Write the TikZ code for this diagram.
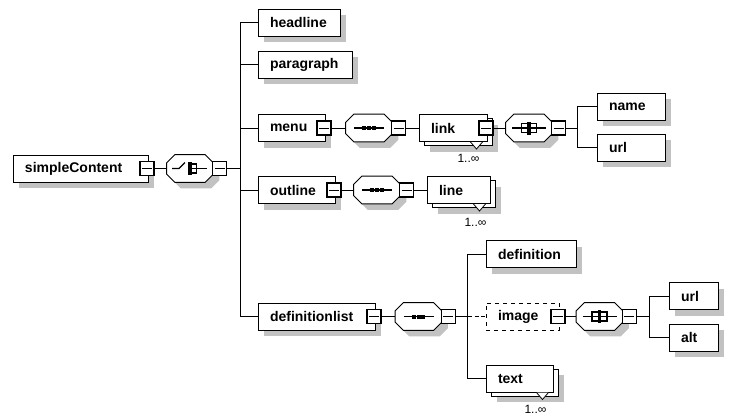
\documentclass[tikz,border=0pt]{standalone}
\usepackage{fontspec}
\setmainfont{Liberation Sans}
\usetikzlibrary{shadows}

\tikzset{
  conn/.style={draw=black, line width=0.75pt},
  box/.style={draw=black, line width=0.75pt, fill=white, rectangle,
    inner xsep=9pt, inner ysep=0pt, minimum height=20.25pt, align=left,
    font=\fontsize{10.5}{12}\selectfont\bfseries},
  shadowed/.style={general shadow={fill=black!24, shadow xshift=4.5pt, shadow yshift=-4.5pt}},
  elem/.style={box, shadowed},
  optelem/.style={box, dashed},
  stackback/.style={box, shadowed, minimum width=#1},
  btn/.style={draw=black, line width=1pt, fill=white, rectangle,
    minimum size=10.5pt, inner sep=0pt,
    path picture={\draw[line width=0.75pt]
      ([xshift=1.5pt]path picture bounding box.west) --
      ([xshift=-1.5pt]path picture bounding box.east);}},
  octbox/.style={rectangle, draw=none, inner sep=0pt,
    minimum width=34.5pt, minimum height=20.25pt},
  mult/.style={inner sep=0pt, font=\fontsize{9}{10}\selectfont},
  notch/.style={draw=black, line width=0.6pt, fill=white}
}

% compositor outline (octagon) with its shadow, around an invisible box node
\newcommand{\drawoct}[1]{%
  \fill[black!24] ([shift={(14,6)}]#1.north west) -- ([shift={(-2,6)}]#1.north east)
    -- ([shift={(6,14)}]#1.north east) -- ([shift={(6,-2)}]#1.south east)
    -- ([shift={(-2,6)}]#1.south east) -- ([shift={(14,6)}]#1.south west)
    -- ([shift={(6,-2)}]#1.south west) -- ([shift={(6,14)}]#1.north west) -- cycle;
  \filldraw[fill=white, draw=black, line width=0.75pt]
    ([shift={(8,0)}]#1.north west) -- ([shift={(-8,0)}]#1.north east)
    -- ([shift={(0,8)}]#1.north east) -- ([shift={(0,-8)}]#1.south east)
    -- ([shift={(-8,0)}]#1.south east) -- ([shift={(8,0)}]#1.south west)
    -- ([shift={(0,-8)}]#1.south west) -- ([shift={(0,8)}]#1.north west) -- cycle;}

% sequence symbol
\newcommand{\seqsym}[1]{%
  \begin{scope}[shift={(#1.center)}]
    \draw[line width=1pt] (-15,0) -- (15,0);
    \fill (-6.75,-2) rectangle (-2.75,2);
    \fill (-2,-2) rectangle (2,2);
    \fill (2.75,-2) rectangle (6.75,2);
  \end{scope}}

% choice symbol
\newcommand{\choicesym}[1]{%
  \begin{scope}[shift={(#1.center)}, line width=0.85pt]
    \draw (-18,0) -- (-11,0) -- (-5,-6);
    \fill (-2,-6.5) rectangle (1.5,6.5);
    \draw (1.5,-4.5) -- (6.5,-4.5) -- (6.5,4.5) -- (1.5,4.5);
    \draw (1.5,0) -- (17,0);
  \end{scope}}

% all symbol
\newcommand{\allsym}[1]{%
  \begin{scope}[shift={(#1.center)}, line width=0.85pt]
    \draw (-17,0) -- (17,0);
    \fill (-1.75,-6.5) rectangle (1.75,6.5);
    \draw (-1.75,-4.5) -- (-7.5,-4.5) -- (-7.5,4.5) -- (-1.75,4.5);
    \draw (1.75,-4.5) -- (7.5,-4.5) -- (7.5,4.5) -- (1.75,4.5);
  \end{scope}}

\begin{document}
\hyphenpenalty=10000
\begin{tikzpicture}[x=0.75pt, y=-0.75pt]
\fill[white] (0,0) rectangle (733,415);
\useasboundingbox (0,0) rectangle (733,415);

% root element and its choice
\node[elem, text width=83.25pt] (simplecontent) at (80.5,168.5) {simpleContent};
\node[btn] (simplecontent-btn) at ([shift={(-1.5,0)}]simplecontent.east) {};
\node[octbox] (choice) at (190,168.5) {};
\drawoct{choice}\choicesym{choice}
\node[btn] (choice-btn) at ([shift={(6.5,0)}]choice.east) {};

% children of the choice
\node[elem, text width=43.5pt] (headline) at (299,22.5) {headline};
\node[elem, text width=52.5pt] (paragraph) at (305,64.5) {paragraph};

% menu
\node[elem, text width=32.25pt] (menu) at (291.5,128) {menu};
\node[btn] (menu-btn) at ([shift={(-1.5,0)}]menu.east) {};
\node[octbox] (menu-seq) at (369,128) {};
\drawoct{menu-seq}\seqsym{menu-seq}
\node[btn] (menu-seq-btn) at ([shift={(6.5,0)}]menu-seq.east) {};
\node[stackback=51pt] (link-back) at (458,132) {};
\node[box, text width=33pt] (link) at (453,128) {link};
\draw[notch] ([shift={(-17,0)}]link.south east) -- ([shift={(-11,7)}]link.south east) -- ([shift={(-5,0)}]link.south east);
\node[btn] (link-btn) at ([shift={(-1.5,0)}]link.east) {};
\node[mult] (link-mult) at ([shift={(-19,16)}]link.south east) {1..∞};
\node[octbox] (link-all) at (529,128) {};
\drawoct{link-all}\allsym{link-all}
\node[btn] (link-all-btn) at ([shift={(6.5,0)}]link-all.east) {};
\node[elem, text width=33pt] (name) at (631,106.5) {name};
\node[elem, text width=33pt] (link-url) at (631,147.5) {url};

% outline
\node[elem, text width=39.75pt] (outline) at (296.5,190) {outline};
\node[btn] (outline-btn) at ([shift={(-1.5,0)}]outline.east) {};
\node[octbox] (outline-seq) at (377,190) {};
\drawoct{outline-seq}\seqsym{outline-seq}
\node[btn] (outline-seq-btn) at ([shift={(6.5,0)}]outline-seq.east) {};
\node[stackback=47.25pt] (line-back) at (463.5,194) {};
\node[box, text width=29.25pt] (line) at (458.5,190) {line};
\draw[notch] ([shift={(-17,0)}]line.south east) -- ([shift={(-11,7)}]line.south east) -- ([shift={(-5,0)}]line.south east);
\node[mult] (line-mult) at ([shift={(-15,18)}]line.south east) {1..∞};

% definitionlist
\node[elem, text width=69.75pt] (definitionlist) at (316.5,316.5) {definitionlist};
\node[btn] (definitionlist-btn) at ([shift={(-1.5,0)}]definitionlist.east) {};
\node[octbox] (dl-seq) at (418.5,316.5) {};
\drawoct{dl-seq}\seqsym{dl-seq}
\node[btn] (dl-seq-btn) at ([shift={(6.5,0)}]dl-seq.east) {};
\node[elem, text width=49.5pt] (definition) at (531,254) {definition};
\node[optelem, text width=36.75pt] (image) at (522.5,316.5) {image};
\node[btn] (image-btn) at ([shift={(-1.5,0)}]image.east) {};
\node[octbox] (image-all) at (599.5,316.5) {};
\drawoct{image-all}\allsym{image-all}
\node[btn] (image-all-btn) at ([shift={(6.5,0)}]image-all.east) {};
\node[elem, text width=18.75pt] (image-url) at (693.5,296) {url};
\node[elem, text width=18.75pt] (alt) at (693.5,337.5) {alt};
\node[stackback=50.25pt] (text-back) at (524.5,382.5) {};
\node[box, text width=32.25pt] (text) at (519.5,378.5) {text};
\draw[notch] ([shift={(-17,0)}]text.south east) -- ([shift={(-11,7)}]text.south east) -- ([shift={(-5,0)}]text.south east);
\node[mult] (text-mult) at ([shift={(-18,17)}]text.south east) {1..∞};

% connectors
\draw[conn] (simplecontent-btn.east) -- (choice.west);
\foreach \child in {headline, paragraph, menu, outline, definitionlist}
  \draw[conn] (choice-btn.east) -- ++(13.5,0) |- (\child.west);

\draw[conn] (menu-btn.east) -- (menu-seq.west);
\draw[conn] (menu-seq-btn.east) -- (link.west);
\draw[conn] (link-btn.east) -- (link-all.west);
\draw[conn] (link-all-btn.east) -- ++(11.5,0) |- (name.west);
\draw[conn] (link-all-btn.east) -- ++(11.5,0) |- (link-url.west);

\draw[conn] (outline-btn.east) -- (outline-seq.west);
\draw[conn] (outline-seq-btn.east) -- (line.west);

\draw[conn] (definitionlist-btn.east) -- (dl-seq.west);
\draw[conn] (dl-seq-btn.east) -- ++(12,0) coordinate (dl-fork) |- (definition.west);
\draw[conn] (dl-fork) |- (text.west);
\draw[conn, dashed, dash pattern=on 3pt off 2pt] (dl-fork) -- (image.west);
\draw[conn] (image-btn.east) -- (image-all.west);
\draw[conn] (image-all-btn.east) -- ++(13,0) |- (image-url.west);
\draw[conn] (image-all-btn.east) -- ++(13,0) |- (alt.west);
\end{tikzpicture}
\end{document}
